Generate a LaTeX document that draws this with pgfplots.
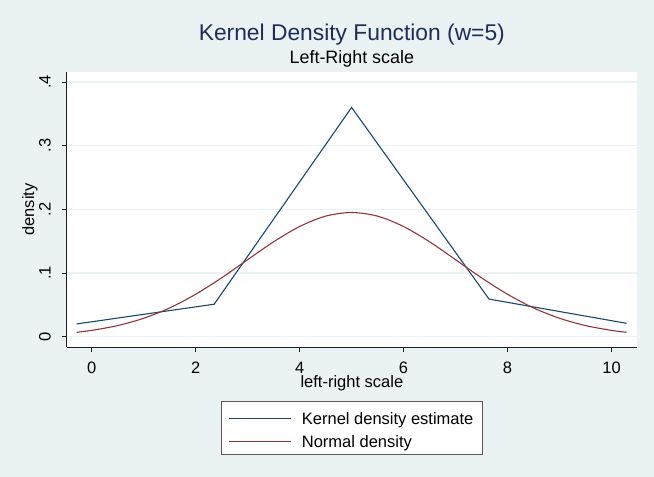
\documentclass[border=0pt]{standalone}
\usepackage{fontspec}
\setmainfont{Liberation Sans}
\usepackage{pgfplots}
\pgfplotsset{compat=1.18}
\definecolor{bgc}{RGB}{234,242,243}
\definecolor{snavy}{RGB}{26,71,111}
\definecolor{smaroon}{RGB}{144,53,59}
\definecolor{tnavy}{RGB}{30,45,90}
\definecolor{axc}{RGB}{30,30,30}
\begin{document}
\begin{tikzpicture}[x=1bp,y=1bp]
\fill[bgc] (0,0) rectangle (654,477);
\begin{axis}[
  at={(66.7bp,130bp)}, anchor=south west,
  scale only axis, width=570.3bp, height=275bp,
  xmin=-0.48, xmax=10.49, ymin=-0.0162, ymax=0.4157,
  axis background/.style={fill=white},
  axis x line*=bottom, axis y line*=left,
  axis line style={axc, line width=0.9bp},
  every tick/.style={axc, line width=0.9bp},
  tick align=outside, major tick length=5bp,
  xtick={0,2,4,6,8,10},
  ytick={0,0.1,0.2,0.3,0.4},
  yticklabels={0,.1,.2,.3,.4},
  /pgf/number format/assume math mode=true,
  ticklabel style={font=\fontsize{16.5bp}{19bp}\selectfont},
  xticklabel style={anchor=base, yshift=-22bp},
  yticklabel style={rotate=90, anchor=base},
  yticklabel shift=11bp,
  ymajorgrids, grid style={bgc, line width=1.6bp},
  title={Kernel Density Function (w=5)},
  title style={font=\fontsize{22.8bp}{26bp}\selectfont, text=tnavy, at={(axis description cs:0.5,1)}, anchor=base, yshift=25.3bp},
  xlabel={left-right scale},
  xlabel style={font=\fontsize{16.5bp}{19bp}\selectfont, at={(axis description cs:0.5,0)}, anchor=base, yshift=-41bp},
  legend style={at={(axis description cs:0.5,-0.1953)}, anchor=north, fill=white, draw={rgb,255:red,90;green,90;blue,90}, line width=0.8bp, font=\fontsize{16.5bp}{19bp}\selectfont, inner xsep=7.3bp, inner ysep=7.6bp, row sep=6.4bp, column sep=8.5bp, nodes={inner xsep=1.5bp, inner ysep=0bp, text height=16bp, text depth=0bp}},
  legend cell align=left,
  legend image code/.code={\draw[#1] (0bp,-2bp) -- (62bp,-2bp);},
  clip=false,
]
\addplot[snavy, line width=1.1bp] coordinates {
(-0.288,0.020) (2.356,0.051) (5.0,0.360) (7.644,0.059) (10.288,0.021)
};
\addlegendentry{Kernel density estimate}
\addplot[smaroon, line width=1.1bp, smooth] coordinates {
(-0.288,0.0069) (0,0.0099) (0.5,0.0174) (1,0.0289) (1.5,0.0451) (2,0.0666)
(2.5,0.0924) (3,0.1209) (3.5,0.1490) (4,0.1730) (4.5,0.1893) (5,0.1950)
(5.5,0.1893) (6,0.1730) (6.5,0.1490) (7,0.1209) (7.5,0.0924) (8,0.0666)
(8.5,0.0451) (9,0.0289) (9.5,0.0174) (10,0.0099) (10.288,0.0069)
};
\addlegendentry{Normal density}
\node[anchor=base, font=\fontsize{17.9bp}{21bp}\selectfont] at (axis description cs:0.5,1) [yshift=8bp] {Left-Right scale};
\end{axis}
\node[rotate=90, anchor=base, font=\fontsize{16.5bp}{19bp}\selectfont] at (34,267.5) {density};
\end{tikzpicture}
\end{document}
